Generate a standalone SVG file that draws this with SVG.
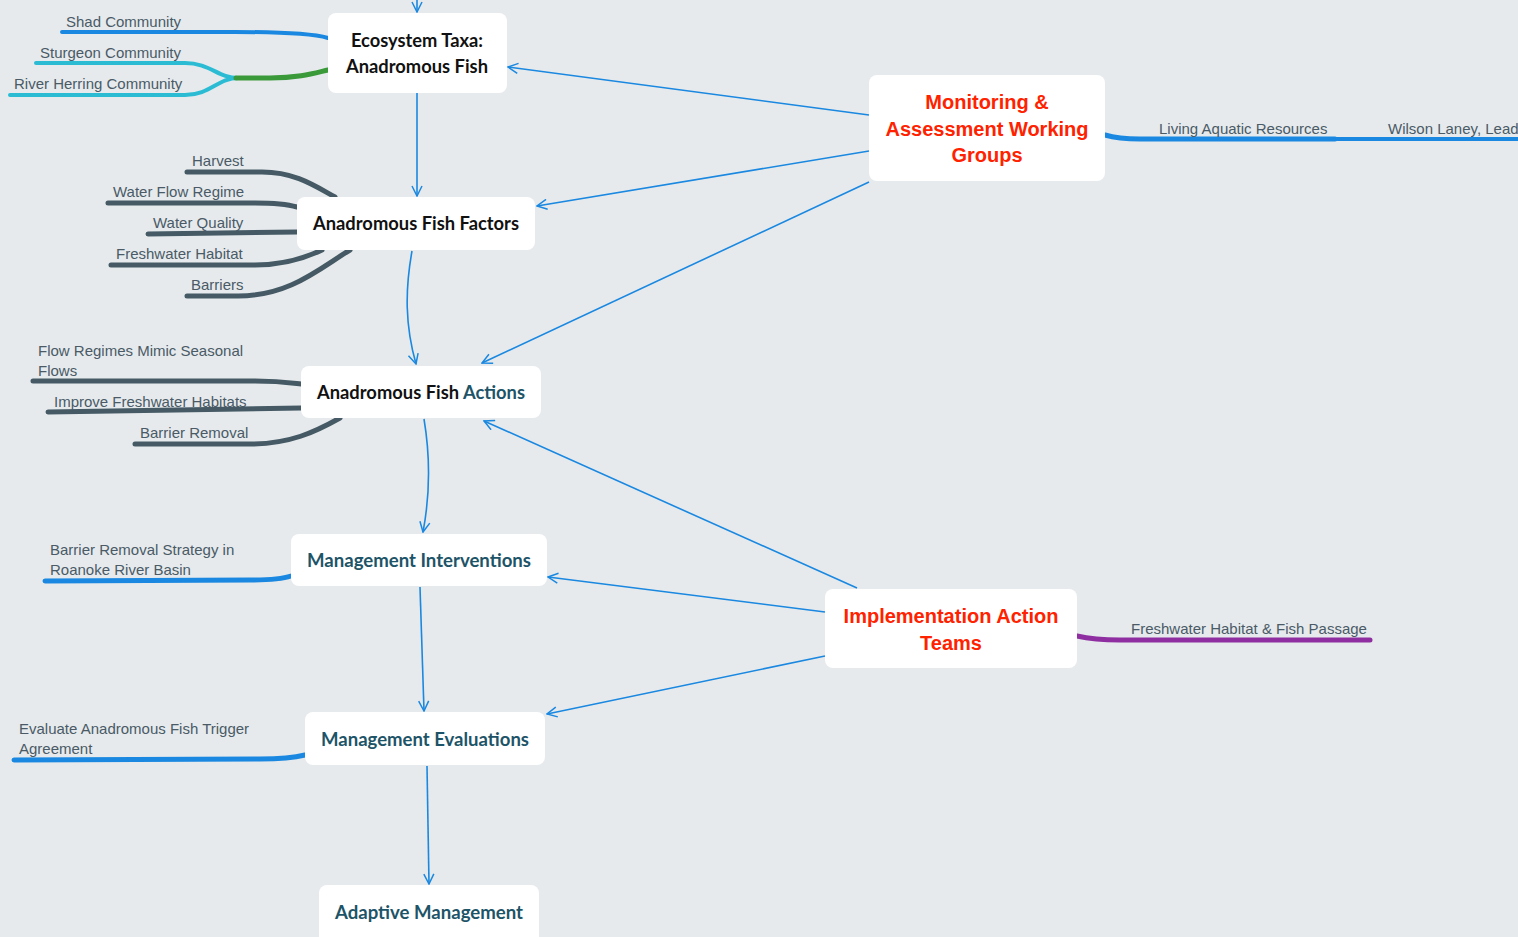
<svg xmlns="http://www.w3.org/2000/svg" width="1518" height="937" viewBox="0 0 1518 937">
<defs>
<marker id="arr" viewBox="0 0 12 12" refX="11" refY="6" markerWidth="12" markerHeight="12" markerUnits="userSpaceOnUse" orient="auto">
<path d="M1,1 L11,6 L1,11" fill="none" stroke="#1a88e0" stroke-width="1.5"/>
</marker>
<style>
.bg{fill:#e6eaed}
.box{fill:#ffffff}
.nt{font-family:Lato,"Open Sans",sans-serif;font-weight:700;font-size:19px;text-anchor:middle;fill:#111111}
.tl{fill:#1d5468}
.rt{font-family:"Liberation Sans",Arial,sans-serif;font-weight:700;font-size:20px;text-anchor:middle;fill:#ff2200}
.lb{font-family:"Liberation Sans",Arial,sans-serif;font-size:15px;fill:#4a5a66}
.c{fill:none;stroke:#1a88e0;stroke-width:1.6;marker-end:url(#arr)}
.br{fill:none;stroke-linecap:round}
.sl{stroke:#455a64;stroke-width:5}
.bl{stroke:#1a88e0}
</style>
</defs>
<rect class="bg" x="0" y="0" width="1518" height="937"/>

<g id="connectors">
<path class="c" d="M417,0 L417,12"/>
<path class="c" d="M417,93 C417,130 417,160 417,196"/>
<path class="c" d="M412,251 C405,290 405,325 416,364"/>
<path class="c" d="M424,419 C430,455 430,495 423,532"/>
<path class="c" d="M420,587 L424,711"/>
<path class="c" d="M427,766 L429,884"/>
<path class="c" d="M869,115 L508,67"/>
<path class="c" d="M869,151 L537,206"/>
<path class="c" d="M869,182 L482,363"/>
<path class="c" d="M857,588 L484,421"/>
<path class="c" d="M825,612 L548,577"/>
<path class="c" d="M825,656 L547,714"/>
</g>

<g id="branches">
<path class="br bl" stroke-width="4" d="M62,32 L235,32 C280,32 310,33 328,38"/>
<path class="br" stroke="#2bbcd4" stroke-width="4" d="M36,63 L185,63 C210,63 218,78 238,78"/>
<path class="br" stroke="#2bbcd4" stroke-width="4" d="M10,95 L185,95 C210,95 218,78 238,78"/>
<path class="br" stroke="#3a9a3a" stroke-width="5" d="M236,78 L270,78 C300,78 315,73 328,70"/>
<path class="br sl" d="M187,172 L262,172 C295,172 315,186 335,197"/>
<path class="br sl" d="M108,203 L255,203 C275,203 290,205 297,207"/>
<path class="br sl" d="M148,234 L297,232"/>
<path class="br sl" d="M111,265 L255,265 C285,265 305,258 322,250"/>
<path class="br sl" d="M187,296 L238,296 C290,296 320,268 350,250"/>
<path class="br sl" d="M33,381 L255,381 C280,381 292,383 301,384"/>
<path class="br sl" d="M48,412 L301,408"/>
<path class="br sl" d="M135,444 L250,444 C290,444 315,432 340,418"/>
<path class="br bl" stroke-width="5" d="M45,581 L250,580 C275,580 285,578 291,576"/>
<path class="br bl" stroke-width="5" d="M14,760 L260,759 C285,759 297,757 305,755"/>
<path class="br bl" stroke-width="5" d="M1105,135 C1115,138 1125,139 1140,139 L1335,139"/>
<path class="br bl" stroke-width="4" d="M1335,139 L1518,139"/>
<path class="br" stroke="#8e2ea0" stroke-width="5" d="M1077,636 C1090,639 1100,640 1120,640 L1370,640"/>
</g>

<g id="labels">
<text class="lb" x="66" y="27">Shad Community</text>
<text class="lb" x="40" y="58">Sturgeon Community</text>
<text class="lb" x="14" y="89">River Herring Community</text>
<text class="lb" x="192" y="166">Harvest</text>
<text class="lb" x="113" y="197">Water Flow Regime</text>
<text class="lb" x="153" y="228">Water Quality</text>
<text class="lb" x="116" y="259">Freshwater Habitat</text>
<text class="lb" x="191" y="290">Barriers</text>
<text class="lb" x="38" y="356">Flow Regimes Mimic Seasonal</text>
<text class="lb" x="38" y="376">Flows</text>
<text class="lb" x="54" y="407">Improve Freshwater Habitats</text>
<text class="lb" x="140" y="438">Barrier Removal</text>
<text class="lb" x="50" y="555">Barrier Removal Strategy in</text>
<text class="lb" x="50" y="575">Roanoke River Basin</text>
<text class="lb" x="19" y="734">Evaluate Anadromous Fish Trigger</text>
<text class="lb" x="19" y="754">Agreement</text>
<text class="lb" x="1159" y="134">Living Aquatic Resources</text>
<text class="lb" x="1388" y="134">Wilson Laney, Lead</text>
<text class="lb" x="1131" y="634">Freshwater Habitat &amp; Fish Passage</text>
</g>

<g id="n-ecosystem">
<rect class="box" x="328" y="13" width="179" height="80" rx="8"/>
<text class="nt" x="417" y="47" textLength="132" lengthAdjust="spacingAndGlyphs">Ecosystem Taxa:</text>
<text class="nt" x="417" y="73" textLength="142" lengthAdjust="spacingAndGlyphs">Anadromous Fish</text>
</g>
<g id="n-factors">
<rect class="box" x="297" y="197" width="238" height="53" rx="8"/>
<text class="nt" x="416" y="230" textLength="206" lengthAdjust="spacingAndGlyphs">Anadromous Fish Factors</text>
</g>
<g id="n-actions">
<rect class="box" x="301" y="366" width="240" height="52" rx="8"/>
<text class="nt" x="421" y="399" textLength="208" lengthAdjust="spacingAndGlyphs">Anadromous Fish <tspan class="tl">Actions</tspan></text>
</g>
<g id="n-interventions">
<rect class="box" x="291" y="534" width="256" height="52" rx="8"/>
<text class="nt tl" x="419" y="567" textLength="224" lengthAdjust="spacingAndGlyphs">Management Interventions</text>
</g>
<g id="n-evaluations">
<rect class="box" x="305" y="712" width="240" height="53" rx="8"/>
<text class="nt tl" x="425" y="746" textLength="208" lengthAdjust="spacingAndGlyphs">Management Evaluations</text>
</g>
<g id="n-adaptive">
<rect class="box" x="319" y="885" width="220" height="60" rx="8"/>
<text class="nt tl" x="429" y="919" textLength="188" lengthAdjust="spacingAndGlyphs">Adaptive Management</text>
</g>
<g id="n-monitoring">
<rect class="box" x="869" y="75" width="236" height="106" rx="8"/>
<text class="rt" x="987" y="109">Monitoring &amp;</text>
<text class="rt" x="987" y="136">Assessment Working</text>
<text class="rt" x="987" y="162">Groups</text>
</g>
<g id="n-implementation">
<rect class="box" x="825" y="589" width="252" height="79" rx="8"/>
<text class="rt" x="951" y="623">Implementation Action</text>
<text class="rt" x="951" y="650">Teams</text>
</g>
</svg>
